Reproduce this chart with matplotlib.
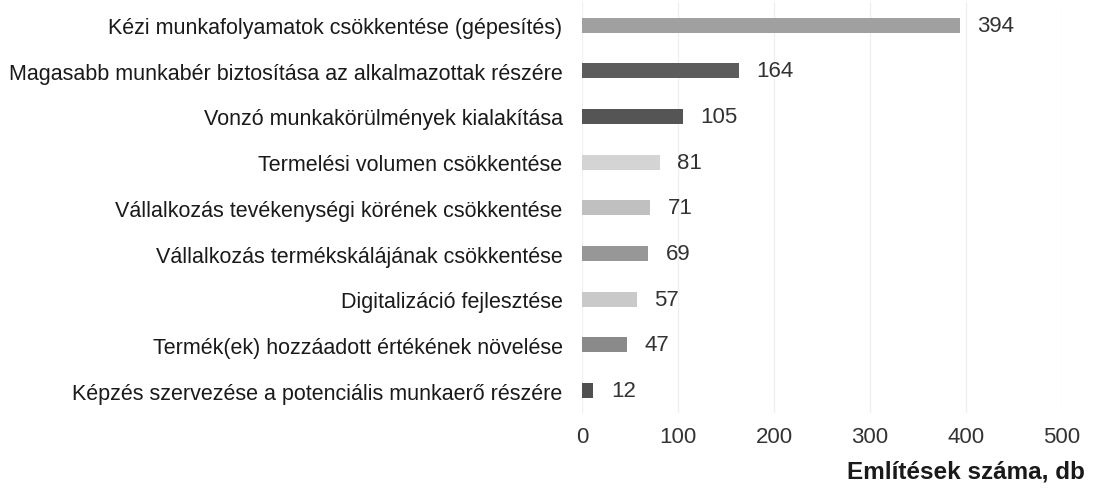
import matplotlib.pyplot as plt

plt.rcParams['font.family'] = ['Liberation Sans', 'DejaVu Sans']

labels = [
    'Kézi munkafolyamatok csökkentése (gépesítés)',
    'Magasabb munkabér biztosítása az alkalmazottak részére',
    'Vonzó munkakörülmények kialakítása',
    'Termelési volumen csökkentése',
    'Vállalkozás tevékenységi körének csökkentése',
    'Vállalkozás termékskálájának csökkentése',
    'Digitalizáció fejlesztése',
    'Termék(ek) hozzáadott értékének növelése',
    'Képzés szervezése a potenciális munkaerő részére',
]
values = [394, 164, 105, 81, 71, 69, 57, 47, 12]
colors = ['#a0a0a0', '#5c5c5c', '#555555', '#d4d4d4', '#c0c0c0',
          '#979797', '#c9c9c9', '#8a8a8a', '#505050']

fig = plt.figure(figsize=(10.96, 4.89), dpi=100)
ax = fig.add_axes([0.531, 0.1524, 0.438, 0.841])

y = list(range(len(labels)))
ax.barh(y, values, height=0.33, color=colors, zorder=2)
for yi, v in zip(y, values):
    ax.text(v + 18, yi, str(v), va='center', ha='left', fontsize=16, color='#333333')

ax.set_yticks(y)
ax.set_yticklabels(labels, fontsize=15.5, color='#1a1a1a')
ax.set_ylim(len(labels) - 0.5, -0.5)
ax.set_xlim(0, 500)
ax.set_xticks([0, 100, 200, 300, 400, 500])
ax.tick_params(axis='x', labelsize=16, labelcolor='#333333', length=0, pad=9)
ax.tick_params(axis='y', length=0, pad=14)
ax.grid(axis='x', color='#f0f0f0', linewidth=1, zorder=0)
for s in ax.spines.values():
    s.set_visible(False)

fig.text(0.99, 0.035, 'Említések száma, db', ha='right', va='center',
         fontsize=17.5, fontweight='bold', color='#1a1a1a')

fig.savefig('out.png', dpi=100)
